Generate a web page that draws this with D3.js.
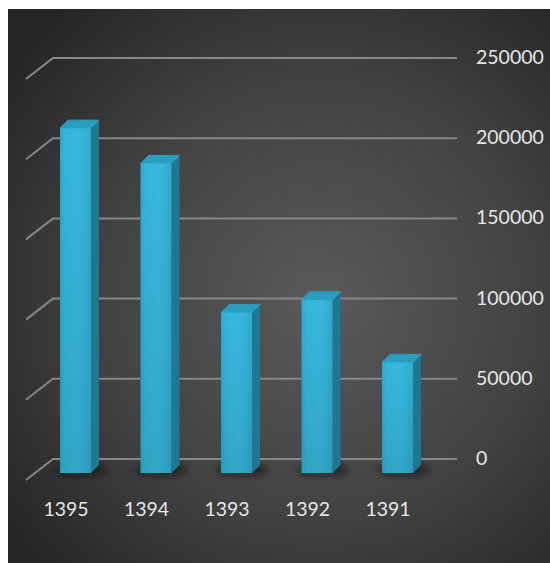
<!DOCTYPE html>
<html>
<head>
<meta charset="utf-8">
<script src="https://cdn.jsdelivr.net/npm/d3@7/dist/d3.min.js"></script>
<style>
html,body{margin:0;padding:0;background:#fff;}
svg{display:block;}
</style>
</head>
<body>
<svg id="chart" width="550" height="563"></svg>
<script>
const categories = ["1395", "1394", "1393", "1392", "1391"];
const values = [215000, 193000, 100000, 108000, 69000];
const yTicks = [0, 50000, 100000, 150000, 200000, 250000];

const svg = d3.select("#chart");
const defs = svg.append("defs");

const bg = defs.append("radialGradient").attr("id", "bg")
  .attr("gradientUnits", "userSpaceOnUse")
  .attr("cx", 320).attr("cy", 300).attr("r", 390);
bg.append("stop").attr("offset", 0).attr("stop-color", "#5a5a5a");
bg.append("stop").attr("offset", 0.55).attr("stop-color", "#424242");
bg.append("stop").attr("offset", 1).attr("stop-color", "#252525");

const front = defs.append("linearGradient").attr("id", "front")
  .attr("x1", 0).attr("x2", 1).attr("y1", 0).attr("y2", 0);
front.append("stop").attr("offset", 0).attr("stop-color", "#2ea9cd");
front.append("stop").attr("offset", 0.15).attr("stop-color", "#34b5da");
front.append("stop").attr("offset", 0.6).attr("stop-color", "#37b9de");
front.append("stop").attr("offset", 1).attr("stop-color", "#30aacd");

const shade = defs.append("linearGradient").attr("id", "shade")
  .attr("x1", 0).attr("x2", 0).attr("y1", 0).attr("y2", 1);
shade.append("stop").attr("offset", 0).attr("stop-color", "#000").attr("stop-opacity", 0);
shade.append("stop").attr("offset", 1).attr("stop-color", "#000").attr("stop-opacity", 0.1);

const blur = defs.append("filter").attr("id", "blur")
  .attr("x", "-50%").attr("y", "-50%").attr("width", "200%").attr("height", "200%");
blur.append("feGaussianBlur").attr("stdDeviation", 3);

svg.append("rect").attr("x", 8).attr("y", 9).attr("width", 542).attr("height", 554)
  .attr("fill", "url(#bg)");

// scales
const y = d3.scaleLinear().domain([0, 250000]).range([459, 58]);
const x = d3.scaleBand().domain(categories).range([35.25, 437.75])
  .paddingInner(0.615).paddingOuter(0.3075);

const wallLeft = 53, wallRight = 457;
const depthX = 27, depthY = 21;      // floor/wall depth
const barDX = 8, barDY = 8;           // bar depth
const frontOffset = 14;               // bar front vs back wall

// gridlines
const grid = svg.append("g");
yTicks.forEach(t => {
  const yy = y(t);
  grid.append("path")
    .attr("d", `M${wallLeft - depthX},${yy + depthY}L${wallLeft},${yy}L${wallRight},${yy}`)
    .attr("fill", "none").attr("stroke", "#878787").attr("stroke-width", 2);
});

// y tick labels
svg.append("g").selectAll("text").data(yTicks).join("text")
  .attr("x", 476).attr("y", d => y(d) + 1)
  .attr("dominant-baseline", "middle")
  .attr("font-family", "Lato, 'Open Sans', sans-serif")
  .attr("font-size", 19.5)
  .attr("fill", "#e6e6e6")
  .text(d => d);

// bars
const bars = svg.append("g").selectAll("g").data(categories.map((c, i) => ({c, v: values[i]})))
  .join("g");

bars.append("ellipse")
  .attr("cx", d => x(d.c) + x.bandwidth() / 2 + 6)
  .attr("cy", y(0) + frontOffset - 3)
  .attr("rx", x.bandwidth() / 2 + 10)
  .attr("ry", 6)
  .attr("fill", "#111").attr("opacity", 0.6)
  .attr("filter", "url(#blur)");

bars.each(function(d) {
  const g = d3.select(this);
  const x0 = x(d.c), w = x.bandwidth();
  const b = y(0) + frontOffset;
  const t = y(d.v) + frontOffset;
  // side
  g.append("path")
    .attr("d", `M${x0 + w},${t}L${x0 + w + barDX},${t - barDY}L${x0 + w + barDX},${b - barDY}L${x0 + w},${b}Z`)
    .attr("fill", "#1f7892");
  // top
  g.append("path")
    .attr("d", `M${x0},${t}L${x0 + barDX},${t - barDY}L${x0 + w + barDX},${t - barDY}L${x0 + w},${t}Z`)
    .attr("fill", "#2a9ec0").attr("stroke", "#2a9ec0").attr("stroke-width", 1).attr("stroke-linejoin", "round");
  // front
  g.append("rect").attr("x", x0).attr("y", t).attr("width", w).attr("height", b - t)
    .attr("fill", "url(#front)");
  g.append("rect").attr("x", x0).attr("y", t).attr("width", w).attr("height", b - t)
    .attr("fill", "url(#shade)");
});

// x labels
svg.append("g").selectAll("text").data(categories).join("text")
  .attr("x", d => x(d) + x.bandwidth() / 2 - 9.5)
  .attr("y", 516)
  .attr("text-anchor", "middle")
  .attr("font-family", "Lato, 'Open Sans', sans-serif")
  .attr("font-size", 19.5)
  .attr("fill", "#e6e6e6")
  .text(d => d);
</script>
</body>
</html>
